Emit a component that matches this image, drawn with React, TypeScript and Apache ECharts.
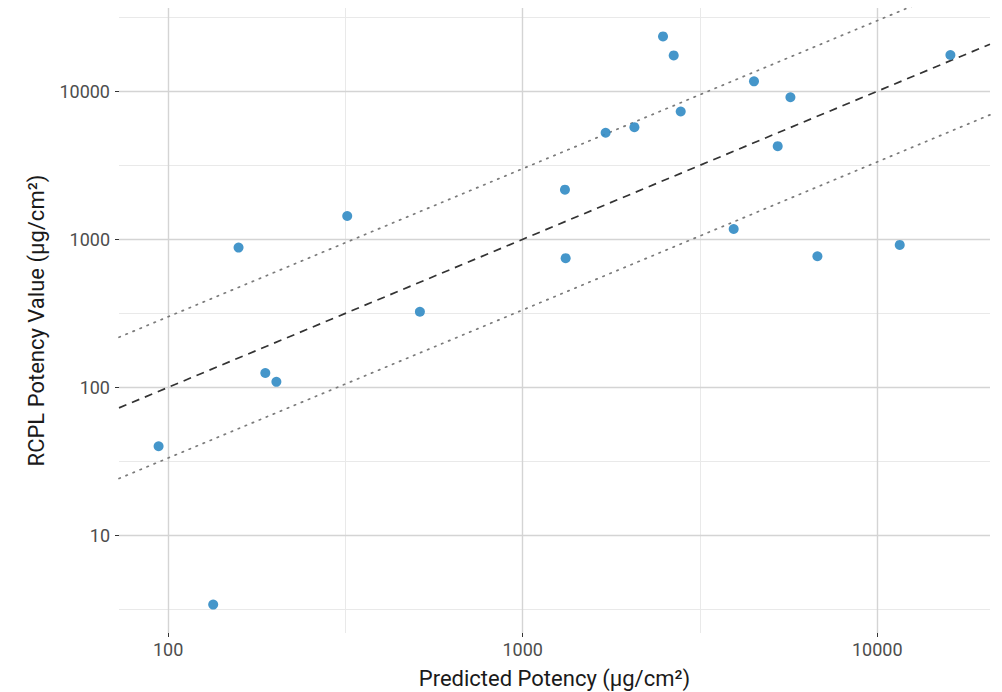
import React, { useEffect, useRef } from "react";
import * as echarts from "echarts";

// Predicted vs. measured (RCPL) potency, both in µg/cm²
const predicted = [94, 134, 158, 188, 202, 320, 513, 1322, 1316, 1714, 2066, 2488, 2667, 2791, 3937, 4492, 5240, 5691, 6781, 11575, 16085];
const rcpl = [40, 3.41, 880, 125, 109, 1438, 324, 746, 2166, 5244, 5720, 23480, 17480, 7300, 1175, 11680, 4260, 9110, 769, 917, 17590];

// Decade ticks (labelled) and half-decade grid lines
const xMajorTicks = [100, 1000, 10000];
const xMinorTicks = [316.23, 3162.3];
const yMajorTicks = [10, 100, 1000, 10000];
const yMinorTicks = [3.1623, 31.623, 316.23, 3162.3, 31623];

// Reference lines: perfect agreement and the 3-fold band
const identityFactor = 1;
const foldFactors = [3, 1 / 3];

const FONT = "Roboto, 'DejaVu Sans', sans-serif";
const lg = (v: number) => Math.log10(v);

function paddedRange(vals: number[]): [number, number] {
  const lo = Math.min(...vals);
  const hi = Math.max(...vals);
  const pad = (hi - lo) * 0.05;
  return [lo - pad, hi + pad];
}

export default function App() {
  const ref = useRef<HTMLDivElement>(null);

  useEffect(() => {
    const chart = echarts.init(ref.current!, null, { renderer: "svg" });

    const lx = predicted.map(lg);
    const ly = rcpl.map(lg);
    const [xMin, xMax] = paddedRange(lx);
    const [yMin, yMax] = paddedRange(ly);

    const majorStyle = { color: "#d4d4d4", width: 1.4, type: "solid" as const };
    const minorStyle = { color: "#e9e9e9", width: 1, type: "solid" as const };

    const gridLines = [
      ...xMinorTicks.map((v) => ({ xAxis: lg(v), lineStyle: minorStyle })),
      ...yMinorTicks.map((v) => ({ yAxis: lg(v), lineStyle: minorStyle })),
      ...yMajorTicks.map((v) => ({ yAxis: lg(v), lineStyle: majorStyle })),
      ...xMajorTicks.map((v) => ({ xAxis: lg(v), lineStyle: majorStyle })),
    ];

    const refLine = (factor: number) => [
      [xMin, xMin + lg(factor)],
      [xMax, xMax + lg(factor)],
    ];

    const labelFmt = (v: number) => String(Math.round(Math.pow(10, v)));

    const axisCommon = {
      type: "value" as const,
      axisLine: { show: false },
      splitLine: { show: false },
      nameLocation: "middle" as const,
      nameTextStyle: { fontFamily: FONT, fontSize: 22, color: "#1a1a1a" },
    };

    chart.setOption({
      animation: false,
      backgroundColor: "#ffffff",
      grid: {
        left: 119,
        right: 12,
        top: 8,
        bottom: 59,
        containLabel: false,
        outerBoundsMode: "none",
      },
      xAxis: {
        ...axisCommon,
        min: xMin,
        max: xMax,
        name: "Predicted Potency (µg/cm²)",
        nameGap: 34,
        axisTick: {
          show: true,
          customValues: xMajorTicks.map(lg),
          length: 4,
          lineStyle: { color: "#333333", width: 1 },
        },
        axisLabel: {
          customValues: xMajorTicks.map(lg),
          formatter: labelFmt,
          fontFamily: FONT,
          fontSize: 18,
          color: "#4d4d4d",
          margin: 7,
        },
      },
      yAxis: {
        ...axisCommon,
        min: yMin,
        max: yMax,
        name: "RCPL Potency Value (µg/cm²)",
        nameGap: 72,
        axisTick: {
          show: true,
          customValues: yMajorTicks.map(lg),
          length: 4,
          lineStyle: { color: "#333333", width: 1 },
        },
        axisLabel: {
          customValues: yMajorTicks.map(lg),
          formatter: labelFmt,
          fontFamily: FONT,
          fontSize: 18,
          color: "#4d4d4d",
          margin: 9,
        },
      },
      series: [
        {
          type: "line",
          data: [],
          z: 0,
          silent: true,
          markLine: {
            z: 0,
            silent: true,
            symbol: ["none", "none"],
            label: { show: false },
            emphasis: { disabled: true },
            animation: false,
            data: gridLines,
          },
        },
        ...foldFactors.map((f) => ({
          type: "line",
          data: refLine(f),
          z: 2,
          silent: true,
          symbol: "none",
          clip: true,
          lineStyle: { color: "#7a7a7a", width: 1.7, type: [1.4, 6.2], cap: "round" },
        })),
        {
          type: "line",
          data: refLine(identityFactor),
          z: 2,
          silent: true,
          symbol: "none",
          clip: true,
          lineStyle: { color: "#333333", width: 1.7, type: [8, 6] },
        },
        {
          type: "scatter",
          z: 3,
          data: lx.map((x, i) => [x, ly[i]]),
          symbolSize: 10,
          itemStyle: { color: "#358dc6", opacity: 0.92 },
        },
      ],
    });

    return () => chart.dispose();
  }, []);

  return (
    <div
      ref={ref}
      style={{ position: "absolute", left: 0, top: 0, width: 1002, height: 692 }}
    />
  );
}
